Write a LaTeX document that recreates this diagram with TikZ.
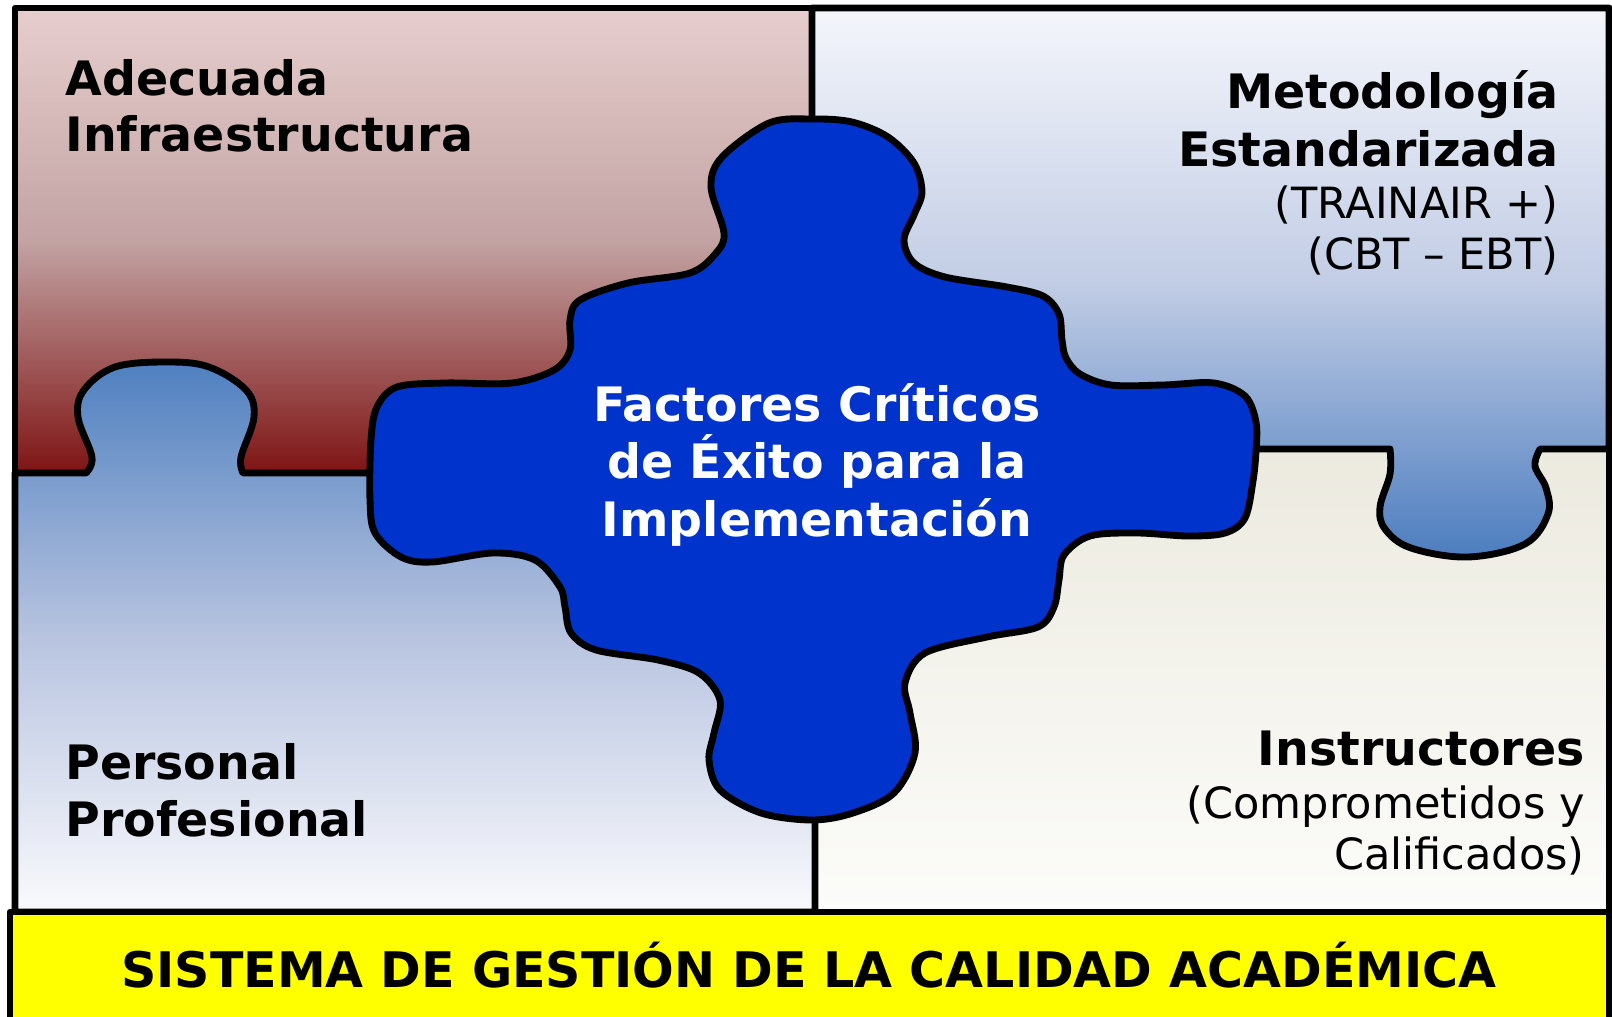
\documentclass[tikz,border=0pt]{standalone}
\usepackage{fontspec}
\setmainfont{DejaVu Sans}
\usepackage{tikz}

\definecolor{infratop}{HTML}{E7CECE}
\definecolor{inframid}{HTML}{C3A3A3}
\definecolor{infrabot}{HTML}{7E1414}
\definecolor{mettop}{HTML}{F4F6FB}
\definecolor{metmid}{HTML}{C2CDE5}
\definecolor{metbot}{HTML}{4C7DBF}
\definecolor{pertop}{HTML}{4F80C0}
\definecolor{permid}{HTML}{B8C4E0}
\definecolor{perbot}{HTML}{FAFAFD}
\definecolor{instop}{HTML}{ECEADF}
\definecolor{insbot}{HTML}{FCFCFA}
\definecolor{blobblue}{HTML}{0033CC}
\definecolor{banneryellow}{HTML}{FFFF00}

\begin{document}
\begin{tikzpicture}[x=0.02cm, y=-0.02cm, line width=3.9pt, line join=round,
  bold/.style={font=\fontsize{27}{32}\selectfont\bfseries, inner sep=0pt},
  plain/.style={font=\fontsize{24.5}{29}\selectfont, inner sep=0pt}]
\def\XMIN{15};\def\XMID{812};\def\XMAX{1609};
\def\YMIN{8};\def\YMAX{912};
\useasboundingbox (0,0) rectangle (1612,1017);
% pieces
\draw[top color=infratop, bottom color=infrabot, middle color=inframid] (\XMIN,\YMIN) rectangle (\XMID,473);
\draw[top color=instop, bottom color=insbot] (\XMID,449) rectangle (\XMAX,\YMAX);
\draw[top color=pertop, bottom color=perbot, middle color=permid] (\XMIN,473) -- plot[smooth, tension=0.6] coordinates {(86,473) (92,457) (78,417) (84,390) (115,367) (167,362) (209,367) (246,390) (254,417) (241,457) (243,473)} -- (815,473) -- (815,\YMAX) -- (\XMIN,\YMAX) -- cycle;
\draw[top color=mettop, bottom color=metbot, middle color=metmid] (\XMID,\YMIN) -- (\XMAX,\YMIN) -- (\XMAX,449) -- plot[smooth, tension=0.6] coordinates {(1540,449) (1535,466) (1546,488) (1548,514) (1525,544) (1468,557) (1411,548) (1385,529) (1380,507) (1390,474) (1390,449)} -- (\XMID,449) -- cycle;
% centre piece
\draw[fill=blobblue] plot[smooth cycle, tension=0.55] coordinates {
  (812,119) (852,122) (888,137) (914,163) (922,192) (914,215) (904,240) (914,263) (945,277)
  (1007,287) (1043,296) (1059,314) (1062,340) (1066,358) (1080,374) (1111,385) (1163,385)
  (1214,383) (1245,396) (1256,422) (1256,451) (1253,481) (1245,518) (1225,533) (1188,536)
  (1137,533) (1090,536) (1064,555) (1059,580) (1054,607) (1038,627) (987,637) (925,653)
  (905,683) (910,713) (915,753) (894,793) (853,813) (812,820) (761,813) (720,790) (709,760)
  (714,733) (720,700) (699,673) (658,660) (596,650) (571,633) (565,607) (560,587) (535,560)
  (493,553) (432,562) (401,557) (375,533) (370,500) (371,440) (377,407) (397,387) (445,383)
  (512,383) (554,370) (570,350) (570,320) (580,300) (628,283) (690,273) (716,253) (724,233)
  (711,187) (722,157) (769,123)};
% banner
\draw[fill=banneryellow] (10,\YMAX) rectangle (\XMAX,1040);
% texts
\node[bold, anchor=base west] (adecuada) at (62,95) {Adecuada};
\node[bold, anchor=base west] (infra) at (62,152) {Infraestructura};
\node[bold, anchor=base east] (metodo) at (1562,109) {Metodología};
\node[bold, anchor=base east] (estandar) at (1562,166) {Estandarizada};
\node[plain, anchor=base east] (trainair) at (1562,218) {(TRAINAIR +)};
\node[plain, anchor=base east] (cbt) at (1562,269) {(CBT – EBT)};
\node[bold, anchor=base west] (personal) at (62,779) {Personal};
\node[bold, anchor=base west] (profes) at (62,836) {Profesional};
\node[bold, anchor=base east] (instruc) at (1588,765) {Instructores};
\node[plain, anchor=base east] (compro) at (1588,818) {(Comprometidos y};
\node[plain, anchor=base east] (calif) at (1588,869) {Calificados)};
\node[bold, text=white, anchor=base] (factores) at (817,421) {Factores Críticos};
\node[bold, text=white, anchor=base] (exito) at (817,478) {de Éxito para la};
\node[bold, text=white, anchor=base] (implem) at (817,536) {Implementación};
\node[bold, font=\fontsize{27.9}{32}\selectfont\bfseries, anchor=base] (sistema) at (809,987) {SISTEMA DE GESTIÓN DE LA CALIDAD ACADÉMICA};
\end{tikzpicture}
\end{document}
